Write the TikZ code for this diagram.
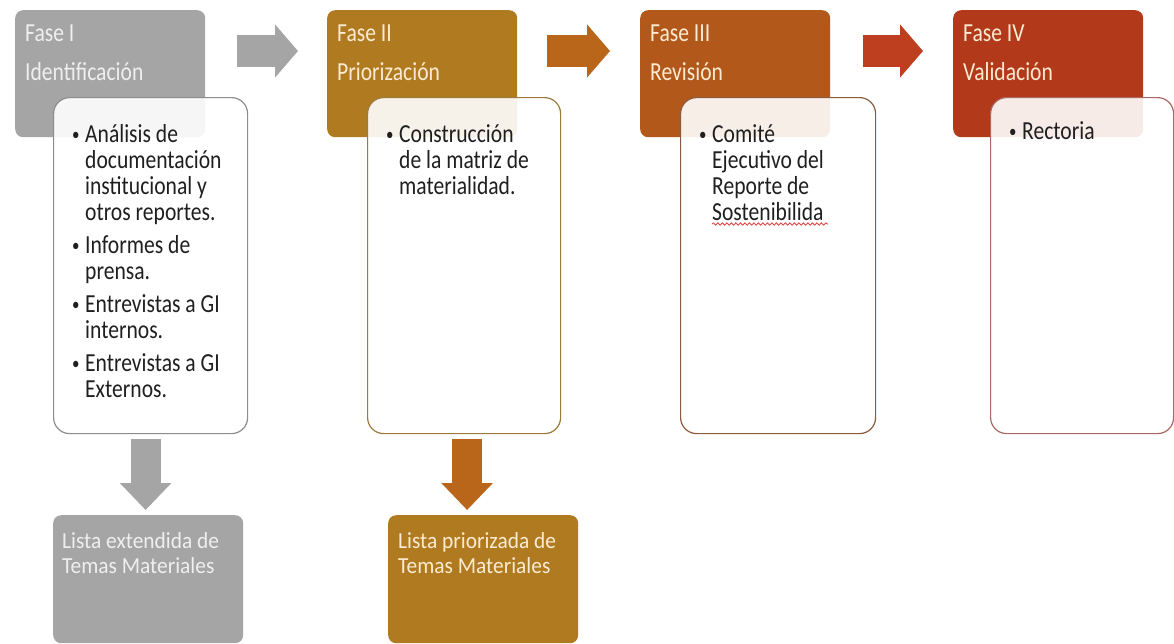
\documentclass[tikz,border=0pt]{standalone}
\usepackage{fontspec}
\setmainfont{Carlito}[FakeStretch=0.83]
\newfontfamily\lowfont{Carlito}[FakeStretch=0.93]
\usetikzlibrary{arrows.meta,calc,decorations.pathmorphing}

\definecolor{grayc}{HTML}{A5A5A5}
\definecolor{goldc}{HTML}{B07B20}
\definecolor{orangec}{HTML}{B3581B}
\definecolor{redc}{HTML}{B23A1B}
\definecolor{arrowb}{HTML}{B9651A}
\definecolor{arrowr}{HTML}{BD3F1F}
\definecolor{grayb}{HTML}{8C8C8C}
\definecolor{goldb}{HTML}{9C7A3C}
\definecolor{orangeb}{HTML}{8C5B3E}
\definecolor{redb}{HTML}{A86A60}
\definecolor{cream}{HTML}{FCEBD2}
\definecolor{lightg}{HTML}{EFEFEF}
\definecolor{wavec}{HTML}{E0403C}

% bullet and hanging indent
\newcommand{\bl}{\makebox[13pt][l]{\raisebox{2pt}{\fontsize{18}{18}\selectfont\textbullet}}}
\newcommand{\ind}{\hspace*{13pt}}

\tikzset{
  phase/.style={rectangle, rounded corners=8pt, minimum width=190pt, minimum height=127pt, inner sep=0pt, anchor=north west},
  phasetext/.style={anchor=base west, inner sep=0pt, align=left, font=\fontsize{26}{39}\selectfont},
  listbox/.style={rectangle, rounded corners=16pt, line width=1.2pt, fill=white, fill opacity=0.9, minimum height=336pt, inner sep=0pt, anchor=north west},
  listtext/.style={anchor=base west, inner sep=0pt, align=left, text=black!88, font=\fontsize{26}{26}\selectfont},
  result/.style={rectangle, rounded corners=8pt, minimum width=190pt, minimum height=128pt, inner sep=0pt, anchor=north west},
  resulttext/.style={anchor=base west, inner sep=0pt, align=left, font=\lowfont\fontsize{23}{25}\selectfont},
  sidearrow/.style={line width=32pt, -{Triangle[width=52pt,length=23pt]}},
  downarrow/.style={line width=30pt, -{Triangle[width=50pt,length=27pt]}, shorten >=5pt},
}

\begin{document}
\begin{tikzpicture}[x=1pt,y=-1pt]
\useasboundingbox (0,0) rectangle (1174,643);

% fases
\node[phase, fill=grayc] (h1) at (15,10) {};
\node[phase, fill=goldc] (h2) at (327,10) {};
\node[phase, fill=orangec] (h3) at (640,10) {};
\node[phase, fill=redc] (h4) at (953,10) {};
\node[phasetext, text=lightg] (t1) at ($(h1.north west)+(10,70)$) {Fase I\\Identificación};
\node[phasetext, text=cream] (t2) at ($(h2.north west)+(10,70)$) {Fase II\\Priorización};
\node[phasetext, text=cream] (t3) at ($(h3.north west)+(10,70)$) {Fase III\\Revisión};
\node[phasetext, text=cream] (t4) at ($(h4.north west)+(10,70)$) {Fase IV\\Validación};

% flechas entre fases
\draw[sidearrow, grayc] ($(h1.north east)+(32,41)$) -- ($(h2.north west)+(-29,41)$);
\draw[sidearrow, arrowb] ($(h2.north east)+(30,41)$) -- ($(h3.north west)+(-30,41)$);
\draw[sidearrow, arrowr] ($(h3.north east)+(33,41)$) -- ($(h4.north west)+(-30,41)$);

% listas
\node[listbox, draw=grayb, minimum width=194pt] (l1) at (53,97) {};
\node[listbox, draw=goldb, minimum width=193pt] (l2) at (367,97) {};
\node[listbox, draw=orangeb, minimum width=195pt] (l3) at (680,97) {};
\node[listbox, draw=redb, minimum width=183pt] (l4) at (990,97) {};

\node[listtext] (b1) at ($(l1.north west)+(19,300)$) {\bl Análisis de\\\ind documentación\\\ind institucional y\\\ind otros reportes.\\[7pt]
  \bl Informes de\\\ind prensa.\\[7pt]
  \bl Entrevistas a GI\\\ind internos.\\[7pt]
  \bl Entrevistas a GI\\\ind Externos.};
\node[listtext] (b2) at ($(l2.north west)+(19,97)$) {\bl Construcción\\\ind de la matriz de\\\ind materialidad.};
\node[listtext] (b3) at ($(l3.north west)+(19,123)$) {\bl Comité\\\ind Ejecutivo del\\\ind Reporte de\\\ind Sostenibilida};
\node[listtext] (b4) at ($(l4.north west)+(19,42)$) {\bl Rectoria};
\draw[wavec, line width=0.8pt, decorate, decoration={snake, amplitude=1.2pt, segment length=4.5pt}]
  ($(l3.north west)+(32,127)$) -- ($(l3.north west)+(148,127)$);

% resultados
\node[result, fill=grayc] (r1) at (53,515) {};
\node[result, fill=goldc] (r2) at (388,515) {};
\node[resulttext, text=lightg] (s1) at ($(r1.north west)+(9,58)$) {Lista extendida de\\Temas Materiales};
\node[resulttext, text=cream] (s2) at ($(r2.north west)+(10,58)$) {Lista priorizada de\\Temas Materiales};

\coordinate (d1) at ($(l1.south)+(-5,5)$);
\coordinate (d2) at ($(l2.south)+(3,5)$);
\draw[downarrow, grayc] (d1) -- (d1 |- r1.north);
\draw[downarrow, arrowb] (d2) -- (d2 |- r2.north);
\end{tikzpicture}
\end{document}
